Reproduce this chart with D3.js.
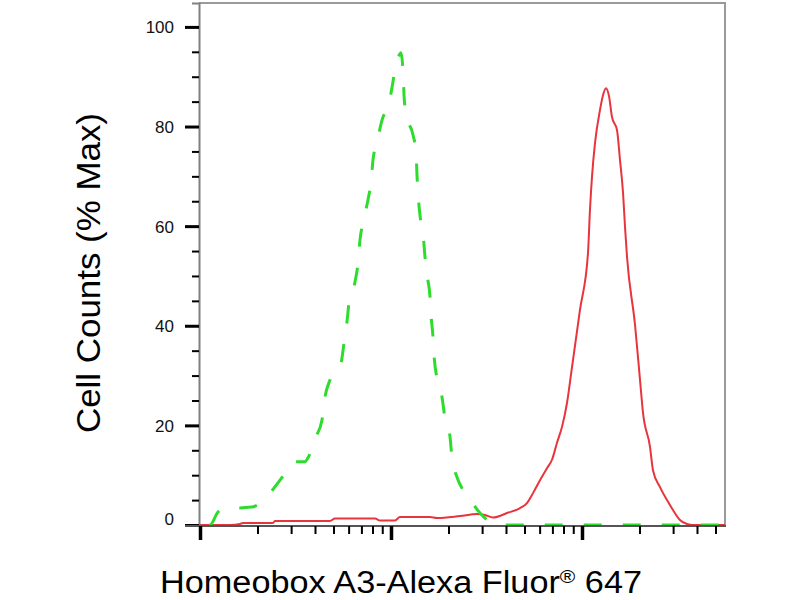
<!DOCTYPE html>
<html>
<head>
<meta charset="utf-8">
<script src="https://cdn.jsdelivr.net/npm/d3@7"></script>
<style>
  html, body { margin: 0; padding: 0; background: #ffffff; }
  svg { display: block; font-family: "Liberation Sans", Arial, Helvetica, sans-serif; }
</style>
</head>
<body>
<svg id="chart" width="800" height="600"></svg>
<script>
// ---- Data ----
const xDomain = [10, 5607];
const yDomain = [0, 104.8];
const yMajorTicks = [0, 20, 40, 60, 80, 100];
const yMinorTicks = [5, 10, 15, 25, 30, 35, 45, 50, 55, 65, 70, 75, 85, 90, 95];
const xMajorTicks = [10, 100, 1000];
const xMinorTicks = [20, 30, 40, 50, 60, 70, 80, 90, 200, 300, 400, 500, 600, 700, 800, 900, 2000, 3000, 4000, 5000];

// Isotype control (green dashed)
const isoX = [10, 11.28, 12.42, 13.52, 14.89, 18.72, 22.70, 26.24, 28.55, 30.68, 35.45, 36.77, 40.49, 43.52, 45.13, 47.92,
  54.73, 56.74, 58.83, 60.27, 64.77, 67.2, 68.8, 71.37, 75.8, 78.6, 80.5, 84.5, 89.75, 97.6, 102.4, 106.2, 108.8, 112.8,
  115.6, 117.0, 119.8, 130.4, 135.2, 136.8, 138.5, 141.8, 147.1, 150.7, 154.4, 160.1, 162.0, 165.9, 168.0, 174.1, 184.9,
  191.7, 203.7, 208.6, 221.6, 235.3, 250.0, 292.4, 329.9, 358.9, 419.8, 5607];
const isoY = [0, 0, 2.6, 3.4, 3.4, 3.6, 6.0, 9.0, 11.0, 12.7, 12.7, 13.5, 17.7, 21.1, 25.7, 29.1,
  32.5, 36.5, 40.8, 44.6, 48.8, 52.6, 57.2, 60.8, 65.3, 68.9, 73.3, 76.9, 81.3, 84.7, 89.0, 92.8, 93.8, 94.8,
  91.0, 86.3, 82.7, 78.3, 74.9, 70.3, 66.7, 62.2, 58.6, 53.8, 50.2, 45.8, 42.2, 37.8, 34.1, 29.5, 25.7,
  21.5, 17.7, 13.5, 9.6, 7.4, 6.0, 2.4, 0.6, 0, 0, 0];

// Homeobox A3 stained (red solid)
const sampleX = [10, 14.36, 16.2, 16.8, 24.1, 24.7, 47.9, 50.9, 82.5, 87.6, 104.9, 111.4, 160.1, 174.1, 229.8, 282, 310.6,
  342, 404.9, 473.6, 515.2, 554, 602.7, 655.7, 696.6, 739.8, 785.8, 834.6, 886.6, 976, 1075, 1101, 1128, 1170, 1242,
  1288, 1336, 1385, 1436, 1525, 1581, 1640, 1680, 1721, 1895, 2013, 2087, 2270, 2353, 2561, 2786, 2995, 3258, 3545, 3813, 5607];
const sampleY = [0, 0, 0.2, 0.4, 0.4, 0.8, 0.8, 1.3, 1.3, 0.9, 0.9, 1.6, 1.6, 1.4, 1.8, 2.2, 2.0,
  1.5, 2.4, 3.4, 4.4, 6.4, 9.0, 11.4, 13.1, 16.5, 19.7, 24.5, 31.7, 43.2, 54.6, 63.3, 69.9, 76.7, 83.3,
  86.3, 87.7, 86.1, 81.9, 79.3, 73.3, 66.7, 59.8, 53.8, 40.2, 29.1, 22.5, 15.7, 11.0, 7.6, 5.0, 3.0, 1.0, 0.2, 0, 0];

const yAxisTitle = "Cell Counts (% Max)";
const xAxisTitleMain = "Homeobox A3-Alexa Fluor";
const xAxisTitleSup = "®";
const xAxisTitleEnd = " 647";

// ---- Layout ----
const mLeft = 199, mRight = 725, mTop = 3, mBottom = 525;
const svg = d3.select("#chart");

const x = d3.scaleLog().domain(xDomain).range([mLeft + 1, mRight]);
const y = d3.scaleLinear().domain(yDomain).range([mBottom, mTop]);

// clip
svg.append("defs").append("clipPath").attr("id", "plotclip")
  .append("rect").attr("x", mLeft).attr("y", mTop - 2).attr("width", mRight - mLeft).attr("height", mBottom - mTop + 4);

// frame (top & right)
svg.append("line").attr("x1", mLeft).attr("x2", mRight + 1).attr("y1", mTop).attr("y2", mTop)
  .attr("stroke", "#9a9a9a").attr("stroke-width", 2);
svg.append("line").attr("x1", mRight).attr("x2", mRight).attr("y1", mTop).attr("y2", mBottom)
  .attr("stroke", "#9a9a9a").attr("stroke-width", 2);

// curves
const line = d3.line().x(d => x(d[0])).y(d => y(d[1])).curve(d3.curveMonotoneX);
const plot = svg.append("g").attr("clip-path", "url(#plotclip)");
plot.append("path").datum(sampleX.map((v, i) => [v, sampleY[i]]))
  .attr("d", line).attr("fill", "none").attr("stroke", "#e8343c").attr("stroke-width", 2)
  .attr("stroke-linejoin", "round");
plot.append("path").datum(isoX.map((v, i) => [v, isoY[i]]))
  .attr("d", line).attr("fill", "none").attr("stroke", "#2ddc2d").attr("stroke-width", 3)
  .attr("stroke-dasharray", "18,21").attr("stroke-dashoffset", 30).attr("stroke-linejoin", "round");

// Y axis: minor ticks
const yMinor = svg.append("g").attr("transform", `translate(${mLeft},0)`)
  .call(d3.axisLeft(y).tickValues(yMinorTicks).tickSize(7).tickFormat(""));
yMinor.select(".domain").attr("stroke", "#808080").attr("stroke-width", 2);
yMinor.selectAll(".tick line").attr("stroke", "#000").attr("stroke-width", 2);

// Y axis: major ticks
const yMajor = svg.append("g").attr("transform", `translate(${mLeft},0)`)
  .call(d3.axisLeft(y).tickValues(yMajorTicks).tickSize(14).tickPadding(11).tickFormat(d3.format("d")));
yMajor.select(".domain").remove();
yMajor.selectAll(".tick line").attr("stroke", "#000").attr("stroke-width", 3);
yMajor.selectAll(".tick text").attr("font-size", 17).attr("fill", "#111")
  .attr("font-family", "'Liberation Sans', Arial, sans-serif")
  .attr("dy", d => d === 0 ? "-0.05em" : "0.35em");

// X axis: minor
const xMinor = svg.append("g").attr("transform", `translate(0,${mBottom + 1})`)
  .call(d3.axisBottom(x).tickValues(xMinorTicks).tickSize(8).tickFormat(""));
xMinor.select(".domain").attr("stroke", "#555").attr("stroke-width", 2)
  .attr("d", `M${mLeft - 14},0H${mRight + 1}`);
xMinor.selectAll(".tick line").attr("stroke", "#000").attr("stroke-width", 2);

// X axis: major
const xMajor = svg.append("g").attr("transform", `translate(0,${mBottom + 1})`)
  .call(d3.axisBottom(x).tickValues(xMajorTicks).tickSize(14).tickFormat(""));
xMajor.select(".domain").remove();
xMajor.selectAll(".tick line").attr("stroke", "#000").attr("stroke-width", 3.5);

// Axis titles
svg.append("text")
  .attr("transform", `translate(100,273) rotate(-90)`)
  .attr("text-anchor", "middle")
  .attr("font-size", 33)
  .attr("fill", "#000")
  .attr("textLength", 320).attr("lengthAdjust", "spacingAndGlyphs")
  .text(yAxisTitle);

const xt = svg.append("text")
  .attr("x", 160).attr("y", 593)
  .attr("font-size", 31)
  .attr("fill", "#000")
  .attr("textLength", 482).attr("lengthAdjust", "spacingAndGlyphs");
xt.append("tspan").text(xAxisTitleMain);
xt.append("tspan").attr("font-size", 19).attr("dy", -10).text(xAxisTitleSup);
xt.append("tspan").attr("dy", 10).text(xAxisTitleEnd);
</script>
</body>
</html>
